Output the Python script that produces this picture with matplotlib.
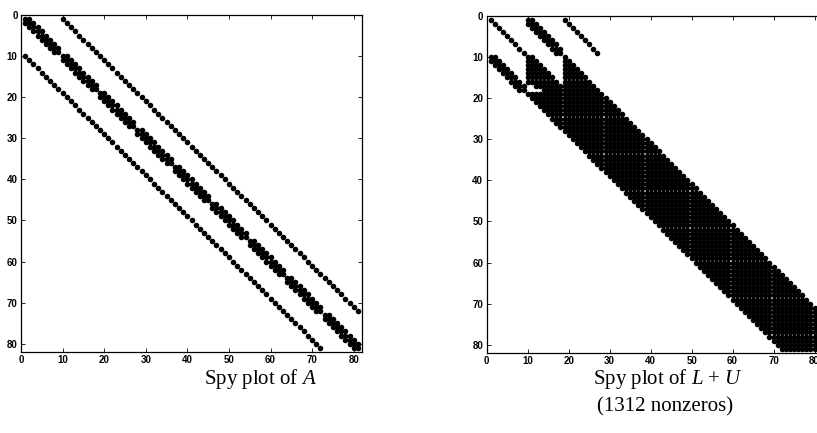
import numpy as np
import matplotlib
matplotlib.use("Agg")
import matplotlib.pyplot as plt

# 5-point Laplacian on a 9 x 9 grid
GRID = 9
N = GRID * GRID
STENCIL = [-GRID, -1, 0, 1, GRID]

# nonzero pattern of L + U, stored as row bands:
# rows first..last, columns row+lo .. row+hi clipped to [col_min, col_max]
SEG_FIRST_ROW = [1, 1, 1, 10, 10, 17, 18, 10, 19]
SEG_LAST_ROW = [9, 9, 9, 18, 16, 17, 18, 18, 81]
SEG_LO = [0, 8, 18, -10, -8, -5, -4, 0, -9]
SEG_HI = [0, 10, 18, -8, 1, 1, 0, 9, 9]
SEG_COL_MIN = [1, 10, 1, 1, 10, 10, 10, 19, 1]
SEG_COL_MAX = [81, 18, 81, 9, 18, 18, 18, 81, 81]

TICKS = [0, 10, 20, 30, 40, 50, 60, 70, 80]


def laplacian_pattern():
    rows, cols = [], []
    for i in range(N):
        for off in STENCIL:
            j = i + off
            if j < 0 or j >= N:
                continue
            if abs(off) == 1 and j // GRID != i // GRID:
                continue
            rows.append(i + 1)
            cols.append(j + 1)
    return np.array(rows), np.array(cols)


def lu_pattern():
    rows, cols = [], []
    for r0, r1, lo, hi, cmin, cmax in zip(SEG_FIRST_ROW, SEG_LAST_ROW, SEG_LO,
                                          SEG_HI, SEG_COL_MIN, SEG_COL_MAX):
        for i in range(r0, r1 + 1):
            for j in range(max(i + lo, cmin), min(i + hi, cmax) + 1):
                rows.append(i)
                cols.append(j)
    return np.array(rows), np.array(cols)


def spy(ax, rows, cols):
    ax.plot(cols, rows, "o", color="k", ms=4.0, mew=0)
    ax.set_xlim(0, N + 1)
    ax.set_ylim(N + 1, 0)
    ax.set_xticks(TICKS)
    ax.set_yticks(TICKS)
    ax.tick_params(direction="in", length=3, width=0.6, top=True, right=True,
                   labelsize=7, pad=2.5)
    for lab in ax.get_xticklabels() + ax.get_yticklabels():
        lab.set_fontweight("bold")
        lab.set_family("Liberation Sans")
    for s in ax.spines.values():
        s.set_linewidth(0.9)


def main():
    plt.rcParams["mathtext.fontset"] = "custom"
    plt.rcParams["mathtext.rm"] = "Liberation Serif"
    plt.rcParams["mathtext.it"] = "Liberation Serif:italic"

    W, H = 817, 433
    fig = plt.figure(figsize=(W / 100, H / 100), dpi=100)

    ax1 = fig.add_axes([21 / W, 1 - 352 / H, 341 / W, 337 / H])
    ra, ca = laplacian_pattern()
    spy(ax1, ra, ca)

    ax2 = fig.add_axes([486.7 / W, 1 - 353 / H, 336 / W, 337.3 / H])
    rl, cl = lu_pattern()
    spy(ax2, rl, cl)

    serif = {"family": "Liberation Serif", "fontsize": 15}
    fig.text(260 / W, 1 - 379 / H, "Spy plot of $A$", ha="center",
             va="center", **serif)
    fig.text(668 / W, 1 - 379 / H, "Spy plot of $L$ + $U$", ha="center",
             va="center", **serif)
    fig.text(665 / W, 1 - 407 / H, f"({len(rl)} nonzeros)", ha="center",
             va="center", **serif)

    fig.savefig("out.png", dpi=100)


if __name__ == "__main__":
    main()
